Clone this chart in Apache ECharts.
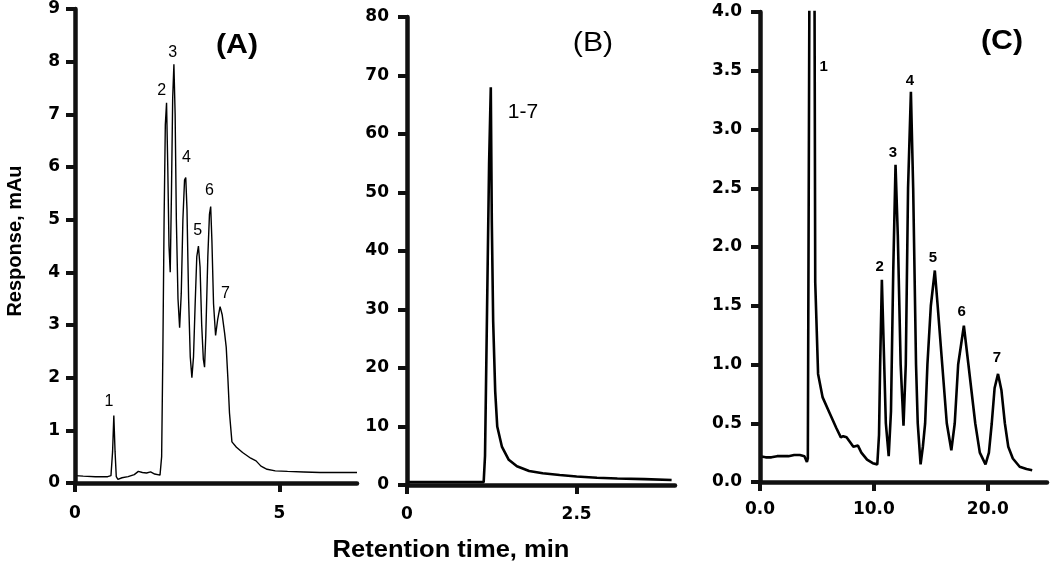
<!DOCTYPE html>
<html>
<head>
<meta charset="utf-8">
<script src="https://cdn.jsdelivr.net/npm/echarts@6/dist/echarts.min.js"></script>
<style>html,body{margin:0;padding:0;background:#fff}#c{width:1050px;height:565px}</style>
</head>
<body>
<div id="c"></div>
<script>
// ---- Panel A (time, min ; response, mAu)
const seriesA = [[0,0.14],[0.2,0.13],[0.5,0.12],[0.8,0.12],[0.88,0.14],[0.92,0.6],[0.95,1.28],[0.98,0.6],[1.01,0.12],[1.05,0.07],[1.15,0.1],[1.3,0.12],[1.45,0.16],[1.55,0.22],[1.65,0.2],[1.75,0.19],[1.85,0.21],[1.95,0.17],[2.08,0.15],[2.12,0.5],[2.15,2.5],[2.18,5.0],[2.21,6.8],[2.24,7.22],[2.27,6.0],[2.30,4.5],[2.33,4.0],[2.36,5.5],[2.39,7.3],[2.42,7.95],[2.45,7.0],[2.48,5.0],[2.52,3.5],[2.56,2.95],[2.60,3.6],[2.64,5.0],[2.68,5.75],[2.71,5.8],[2.74,5.2],[2.78,3.5],[2.82,2.4],[2.86,2.0],[2.9,2.4],[2.94,3.4],[2.98,4.3],[3.02,4.5],[3.06,4.1],[3.1,3.0],[3.14,2.35],[3.17,2.2],[3.2,2.8],[3.25,4.3],[3.29,5.1],[3.32,5.25],[3.35,4.6],[3.39,3.4],[3.44,2.8],[3.49,3.1],[3.55,3.35],[3.6,3.2],[3.66,2.85],[3.7,2.58],[3.74,2.0],[3.78,1.33],[3.84,0.78],[3.95,0.68],[4.1,0.58],[4.3,0.47],[4.43,0.42],[4.55,0.32],[4.7,0.26],[4.9,0.23],[5.2,0.22],[5.6,0.21],[6.0,0.2],[6.5,0.2],[6.9,0.2]];
const peakLabelsA = ['1','2','3','4','5','6','7'];
const peakLabelPosA = [[0.83,1.54],[2.12,7.46],[2.39,8.18],[2.73,6.17],[3.0,4.8],[3.29,5.56],[3.68,3.6]];
const xTicksA = [0,5];

// ---- Panel B
const seriesB = [[0,0.5],[0.5,0.5],[1.0,0.5],[1.13,0.5],[1.15,5],[1.18,30],[1.21,55],[1.235,68],[1.25,45],[1.27,28],[1.3,16],[1.33,10],[1.4,6.5],[1.5,4.3],[1.62,3.2],[1.8,2.4],[2.0,2.0],[2.25,1.7],[2.5,1.45],[2.8,1.25],[3.1,1.1],[3.5,1.0],[3.9,0.85]];
const peakLabelsB = ['1-7'];
const peakLabelPosB = [[1.71,63.8]];
const xTicksB = [0,2.5];

// ---- Panel C
const seriesC = [[0,0.22],[0.5,0.21],[1,0.21],[1.5,0.22],[2,0.22],[2.5,0.22],[3,0.23],[3.5,0.23],[3.9,0.22],[4.12,0.17],[4.2,0.2],[4.4,6],[4.57,12],[4.74,6],[4.85,1.7],[5.1,0.92],[5.5,0.72],[6.1,0.59],[6.7,0.46],[7.1,0.38],[7.3,0.39],[7.6,0.38],[7.9,0.34],[8.2,0.3],[8.6,0.31],[8.9,0.25],[9.4,0.19],[9.9,0.16],[10.3,0.15],[10.45,0.4],[10.55,1.0],[10.7,1.72],[10.85,1.2],[11.05,0.5],[11.3,0.22],[11.5,0.6],[11.7,1.8],[11.9,2.7],[12.1,2.1],[12.35,1.0],[12.6,0.48],[12.8,1.0],[13.0,2.5],[13.25,3.32],[13.45,2.5],[13.7,1.0],[13.85,0.5],[14.1,0.15],[14.3,0.3],[14.5,0.5],[14.7,1.0],[15.0,1.5],[15.35,1.8],[15.6,1.5],[16.0,1.0],[16.4,0.5],[16.8,0.27],[17.1,0.5],[17.4,1.0],[17.9,1.33],[18.3,1.0],[18.9,0.5],[19.3,0.25],[19.8,0.15],[20.1,0.25],[20.35,0.5],[20.6,0.8],[20.9,0.92],[21.2,0.78],[21.5,0.5],[21.8,0.3],[22.2,0.2],[22.8,0.13],[23.4,0.11],[23.9,0.1]];
const peakLabelsC = ['1','2','3','4','5','6','7'];
const peakLabelPosC = [[5.6,3.53],[10.5,1.83],[11.67,2.8],[13.16,3.41],[15.18,1.91],[17.7,1.45],[20.8,1.06]];
const xTicksC = [0,10,20];

const panelTitles = ['(A)','(B)','(C)'];
const yName = 'Response, mAu';
const xName = 'Retention time, min';

const FF = '"Liberation Sans", Arial, Helvetica, sans-serif';
const TF = '"DejaVu Sans", sans-serif';
const AX = '#111111';

const chart = echarts.init(document.getElementById('c'), null, {renderer:'canvas'});
const baseGraphics = [
  {type:'text', x:237, y:46, scaleX:1.12, style:{text:panelTitles[0], font:'bold 27px '+FF, fill:'#000', align:'center', verticalAlign:'middle'}},
  {type:'text', x:593, y:44, scaleX:1.12, style:{text:panelTitles[1], font:'27px '+FF, fill:'#000', align:'center', verticalAlign:'middle'}},
  {type:'text', x:1002, y:42, scaleX:1.12, style:{text:panelTitles[2], font:'bold 27px '+FF, fill:'#000', align:'center', verticalAlign:'middle'}},
  {type:'text', x:15, y:241, rotation:Math.PI/2, style:{text:yName, font:'bold 20px '+FF, fill:'#000', align:'center', verticalAlign:'middle'}},
  {type:'text', x:451, y:551, scaleX:1.11, style:{text:xName, font:'bold 23px '+FF, fill:'#000', align:'center', verticalAlign:'middle'}}
];
chart.setOption({
  animation:false,
  backgroundColor:'#fff',
  grid:[
    {left:75, top:9, width:282, height:474},
    {left:407, top:17, width:268, height:468},
    {left:760, top:12, width:287, height:470}
  ],
  xAxis:[
    {type:'value', gridIndex:0, min:0, max:6.9, z:10,
      axisLine:{show:true, lineStyle:{color:AX, width:4.5}},
      axisTick:{show:true, inside:false, length:9, lineStyle:{color:AX, width:4}, customValues:xTicksA},
      axisLabel:{customValues:xTicksA, formatter:v=>String(v), fontFamily:TF, fontWeight:'bold', fontSize:17, margin:22, color:'#000'},
      splitLine:{show:false}},
    {type:'value', gridIndex:1, min:0, max:3.95, z:10,
      axisLine:{show:true, lineStyle:{color:AX, width:4.5}},
      axisTick:{show:true, inside:false, length:9, lineStyle:{color:AX, width:4}, customValues:xTicksB},
      axisLabel:{customValues:xTicksB, formatter:v=>String(v), fontFamily:TF, fontWeight:'bold', fontSize:17, margin:21, color:'#000'},
      splitLine:{show:false}},
    {type:'value', gridIndex:2, min:0, max:25.2, z:10,
      axisLine:{show:true, lineStyle:{color:AX, width:4.5}},
      axisTick:{show:true, inside:false, length:9, lineStyle:{color:AX, width:4}, customValues:xTicksC},
      axisLabel:{customValues:xTicksC, formatter:v=>v.toFixed(1), fontFamily:TF, fontWeight:'bold', fontSize:17, margin:19, color:'#000'},
      splitLine:{show:false}}
  ],
  yAxis:[
    {type:'value', gridIndex:0, min:0, max:9, interval:1, z:10,
      axisLine:{show:true, lineStyle:{color:AX, width:4.5}},
      axisTick:{show:true, inside:false, length:9, lineStyle:{color:AX, width:4}},
      axisLabel:{formatter:v=>String(v), fontFamily:TF, fontWeight:'bold', fontSize:17, margin:15, color:'#000'},
      splitLine:{show:false}},
    {type:'value', gridIndex:1, min:0, max:80, interval:10, z:10,
      axisLine:{show:true, lineStyle:{color:AX, width:4.5}},
      axisTick:{show:true, inside:false, length:9, lineStyle:{color:AX, width:4}},
      axisLabel:{formatter:v=>String(v), fontFamily:TF, fontWeight:'bold', fontSize:17, margin:18, color:'#000'},
      splitLine:{show:false}},
    {type:'value', gridIndex:2, min:0, max:4, interval:0.5, z:10,
      axisLine:{show:true, lineStyle:{color:AX, width:4.5}},
      axisTick:{show:true, inside:false, length:9, lineStyle:{color:AX, width:4}},
      axisLabel:{formatter:v=>v.toFixed(1), fontFamily:TF, fontWeight:'bold', fontSize:17, margin:18, color:'#000'},
      splitLine:{show:false}}
  ],
  series:[
    {type:'line', xAxisIndex:0, yAxisIndex:0, data:seriesA, showSymbol:false, lineStyle:{color:'#000', width:1.4}, clip:true},
    {type:'line', xAxisIndex:1, yAxisIndex:1, data:seriesB, showSymbol:false, lineStyle:{color:'#000', width:2.6}, clip:true},
    {type:'line', xAxisIndex:2, yAxisIndex:2, data:seriesC, showSymbol:false, lineStyle:{color:'#000', width:2.6}, clip:true}
  ],
  graphic: baseGraphics
});

// peak labels placed through the chart's own coordinate conversion
function peakTexts(gridIndex, pos, texts, font){
  return pos.map((p,k)=>{
    const px = chart.convertToPixel({gridIndex:gridIndex}, p);
    return {type:'text', x:px[0], y:px[1], silent:true,
      style:{text:texts[k], font:font, fill:'#000', align:'center', verticalAlign:'middle'}};
  });
}
const labelGraphics = []
  .concat(peakTexts(0, peakLabelPosA, peakLabelsA, '16px '+FF))
  .concat(peakTexts(1, peakLabelPosB, peakLabelsB, '21px '+FF))
  .concat(peakTexts(2, peakLabelPosC, peakLabelsC, 'bold 15px '+FF));
chart.setOption({graphic: baseGraphics.concat(labelGraphics)});
</script>
</body>
</html>
